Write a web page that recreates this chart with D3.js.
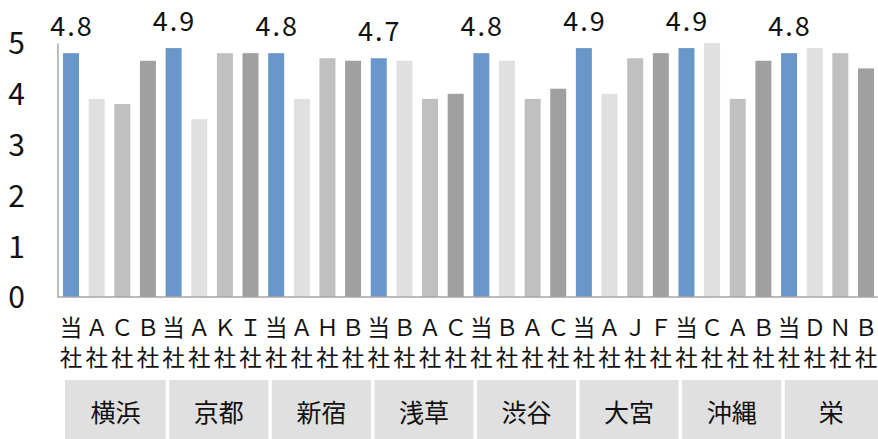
<!DOCTYPE html>
<html>
<head>
<meta charset="utf-8">
<script src="https://cdn.jsdelivr.net/npm/d3@7"></script>
<style>
  html, body { margin: 0; padding: 0; background: #fff; }
  body { width: 878px; height: 439px; overflow: hidden; }
  text { font-family: "Noto Sans CJK JP", "Noto Sans", sans-serif; fill: #111; }
</style>
</head>
<body>
<script>
// areas (group labels) and competitors in each area
var areas = ["横浜", "京都", "新宿", "浅草", "渋谷", "大宮", "沖縄", "栄"];
var companies = [
  ["当", "Ａ", "Ｃ", "Ｂ"],
  ["当", "Ａ", "Ｋ", "Ｉ"],
  ["当", "Ａ", "Ｈ", "Ｂ"],
  ["当", "Ｂ", "Ａ", "Ｃ"],
  ["当", "Ｂ", "Ａ", "Ｃ"],
  ["当", "Ａ", "Ｊ", "Ｆ"],
  ["当", "Ｃ", "Ａ", "Ｂ"],
  ["当", "Ｄ", "Ｎ", "Ｂ"]
];
var scores = [
  [4.8, 3.9, 3.8, 4.65],
  [4.9, 3.5, 4.8, 4.8],
  [4.8, 3.9, 4.7, 4.65],
  [4.7, 4.65, 3.9, 4.0],
  [4.8, 4.65, 3.9, 4.1],
  [4.9, 4.0, 4.7, 4.8],
  [4.9, 5.0, 3.9, 4.65],
  [4.8, 4.9, 4.8, 4.5]
];
var ownLabels = ["4.8", "4.9", "4.8", "4.7", "4.8", "4.9", "4.9", "4.8"];
var yTicks = [0, 1, 2, 3, 4, 5];
var slotColors = ["#6a97ca", "#e0e0e0", "#c0c0c0", "#a0a0a0"];

var W = 878, H = 439;

// flatten into one bar list
var bars = [];
areas.forEach(function(a, g) {
  companies[g].forEach(function(c, k) {
    bars.push({ id: g * 4 + k, group: g, slot: k, name: c, value: scores[g][k] });
  });
});

var svg = d3.select("body").append("svg")
    .attr("width", W)
    .attr("height", H);

var x = d3.scaleBand()
    .domain(bars.map(function(d) { return d.id; }))
    .range([58.2, 878.8])
    .paddingInner(0.376)
    .paddingOuter(0.188);

var y = d3.scaleLinear()
    .domain([0, 5])
    .range([297, 43]);

var step = x.step();
var groupW = step * 4;

function boxLeft(i) { return i === 0 ? 65 : x.range()[0] + i * groupW + 8.5; }
function boxRight(i) { return i === areas.length - 1 ? W : x.range()[0] + (i + 1) * groupW + 5; }

// group boxes under the category labels
svg.append("g").selectAll("rect")
    .data(areas)
  .enter().append("rect")
    .attr("x", function(d, i) { return boxLeft(i); })
    .attr("y", 380)
    .attr("width", function(d, i) { return boxRight(i) - boxLeft(i); })
    .attr("height", 70)
    .attr("fill", "#e0e0e0");

svg.append("g").selectAll("text")
    .data(areas)
  .enter().append("text")
    .attr("x", function(d, i) { return (boxLeft(i) + boxRight(i)) / 2; })
    .attr("y", 413)
    .attr("dy", "0.36em")
    .attr("text-anchor", "middle")
    .attr("font-size", "25px")
    .text(function(d) { return d; });

// bars
svg.append("g").selectAll("rect")
    .data(bars)
  .enter().append("rect")
    .attr("x", function(d) { return x(d.id); })
    .attr("y", function(d) { return y(d.value); })
    .attr("width", x.bandwidth())
    .attr("height", function(d) { return y(0) - y(d.value); })
    .attr("fill", function(d) { return slotColors[d.slot]; });

// data labels on own-company bars
svg.append("g").selectAll("text")
    .data(bars.filter(function(d) { return d.slot === 0; }))
  .enter().append("text")
    .attr("x", function(d) { return x(d.id) + x.bandwidth() / 2 + 1; })
    .attr("y", function(d) { return y(d.value) - 17; })
    .attr("text-anchor", "middle")
    .attr("font-size", "27px")
    .attr("font-family", "\"DejaVu Sans\", sans-serif")
    .attr("letter-spacing", "2px")
    .text(function(d) { return ownLabels[d.group]; });

// y axis
var yAxis = svg.append("g")
    .attr("transform", "translate(57.5,0)")
    .call(d3.axisLeft(y).tickValues(yTicks).tickSize(0).tickSizeOuter(0).tickFormat(d3.format("d")));
yAxis.select(".domain").attr("stroke", "#a6a6a6").attr("stroke-width", 1.5);
yAxis.selectAll("text")
    .attr("x", -41)
    .attr("dy", "0.36em")
    .attr("text-anchor", "middle")
    .attr("font-size", "30px")
    .attr("font-family", "\"DejaVu Sans\", sans-serif")
    .attr("fill", "#111");

// x axis: baseline + two-line company labels
var xAxis = svg.append("g")
    .attr("transform", "translate(0,297)")
    .call(d3.axisBottom(x).tickSize(0).tickSizeOuter(0).tickFormat(""));
xAxis.select(".domain").attr("d", "M57.5,0H878").attr("stroke", "#a6a6a6").attr("stroke-width", 1.5);
xAxis.selectAll(".tick text").each(function(id) {
  var t = d3.select(this)
      .attr("y", 0)
      .attr("dy", null)
      .attr("font-size", "22.5px")
      .attr("font-family", "\"Noto Sans CJK JP\", sans-serif")
      .attr("fill", "#111")
      .attr("text-anchor", "middle");
  t.append("tspan").attr("x", 0).attr("y", 39).text(bars[id].name);
  t.append("tspan").attr("x", 0).attr("y", 69).text("社");
});
</script>
</body>
</html>
